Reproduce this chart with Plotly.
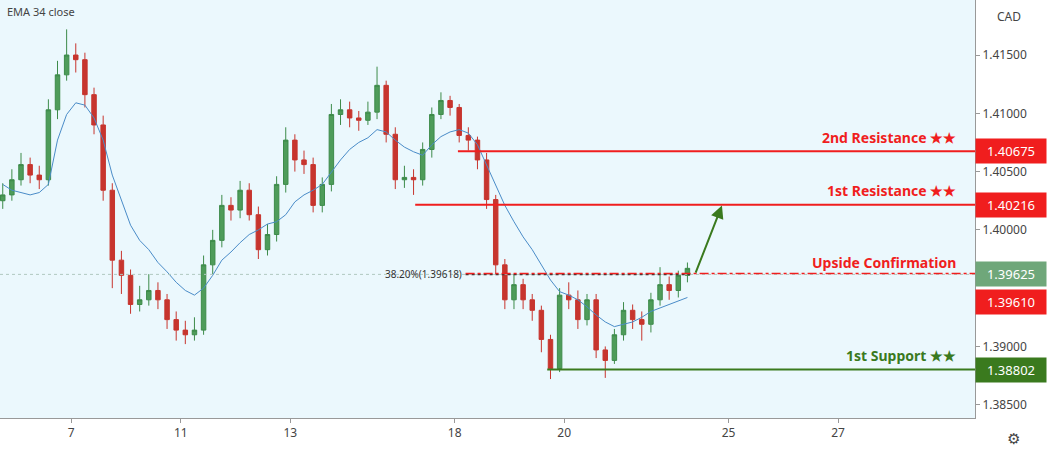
import plotly.graph_objects as go

# 4H bars, x in trading-day units (0 = the 7th)
closes = [1.4030,1.4043,1.4056,1.4047,1.4043,1.4103,1.4133,1.4150,1.4146,1.4116,1.4090,1.4034,1.3974,1.3961,1.3936,1.3940,
          1.3948,1.3940,1.3923,1.3914,1.3910,1.3914,1.3970,1.3991,1.4021,1.4017,1.4034,1.4013,1.3983,1.3996,1.4039,1.4077,
          1.4060,1.4056,1.4021,1.4039,1.4099,1.4103,1.4096,1.4094,1.4101,1.4124,1.4082,1.4043,1.4045,1.4043,1.4069,1.4099,
          1.4111,1.4105,1.4081,1.4077,1.4060,1.4026,1.3970,1.3940,1.3953,1.3940,1.3931,1.3906,1.3881,1.3944,1.3940,1.3923,
          1.3940,1.3897,1.3888,1.3910,1.3931,1.3923,1.3919,1.3940,1.3953,1.3948,1.3961,1.3967]
highs = [1.4040,1.4052,1.4066,1.4062,1.4055,1.4112,1.4145,1.4172,1.4160,1.4152,1.4122,1.4098,1.4040,1.3982,1.3966,1.3952,
         1.3962,1.3955,1.3945,1.3930,1.3922,1.3925,1.3978,1.4000,1.4030,1.4028,1.4042,1.4040,1.4020,1.4005,1.4046,1.4088,
         1.4082,1.4068,1.4062,1.4045,1.4108,1.4112,1.4110,1.4102,1.4110,1.4140,1.4128,1.4088,1.4055,1.4052,1.4075,1.4105,
         1.4118,1.4115,1.4108,1.4088,1.4080,1.4066,1.4030,1.3975,1.3962,1.3958,1.3945,1.3935,1.3910,1.3950,1.3955,1.3948,
         1.3945,1.3945,1.3900,1.3915,1.3938,1.3936,1.3930,1.3946,1.3968,1.3960,1.3965,1.3972]
lows = [1.4018,1.4025,1.4038,1.4040,1.4035,1.4038,1.4095,1.4128,1.4135,1.4105,1.4082,1.4025,1.3950,1.3945,1.3928,1.3930,
        1.3935,1.3932,1.3915,1.3905,1.3902,1.3905,1.3910,1.3962,1.3985,1.4008,1.4010,1.4008,1.3975,1.3978,1.3990,1.4032,
        1.4050,1.4048,1.4015,1.4015,1.4033,1.4090,1.4088,1.4085,1.4090,1.4095,1.4075,1.4035,1.4036,1.4030,1.4038,1.4062,
        1.4095,1.4098,1.4075,1.4068,1.4052,1.4018,1.3962,1.3932,1.3932,1.3932,1.3922,1.3895,1.3872,1.3878,1.3932,1.3915,
        1.3918,1.3890,1.3873,1.3885,1.3905,1.3915,1.3905,1.3912,1.3935,1.3940,1.3942,1.3955]
ema34 = [1.4039,1.4034,1.4032,1.4030,1.4032,1.4039,1.4077,1.4099,1.4109,1.4107,1.4096,1.4077,1.4047,1.4026,1.4004,1.3991,
         1.3983,1.3972,1.3964,1.3955,1.3948,1.3944,1.3950,1.3961,1.3974,1.3981,1.3989,1.3996,1.4000,1.4005,1.4007,1.4013,
         1.4024,1.4030,1.4034,1.4039,1.4050,1.4060,1.4069,1.4075,1.4079,1.4086,1.4084,1.4077,1.4071,1.4067,1.4064,1.4073,
         1.4080,1.4084,1.4086,1.4083,1.4073,1.4056,1.4039,1.4021,1.4007,1.3994,1.3983,1.3970,1.3957,1.3947,1.3944,1.3940,
         1.3934,1.3927,1.3921,1.3917,1.3919,1.3921,1.3925,1.3930,1.3933,1.3936,1.3939,1.3942]
opens = [1.4025] + closes[:-1]
bar_x = [-1.25 + i / 6 for i in range(len(closes))]

tick_pos = [0, 2, 4, 7, 9, 12, 14]
tick_text = ["7", "11", "13", "18", "20", "25", "27"]
# 1.39500 sits under the price tags, as in the original
price_ticks = [1.385, 1.39, 1.40, 1.405, 1.41, 1.415]

levels = [("2nd Resistance ★★", 1.40675, 7.06, "#f01e1e"),
          ("1st Resistance ★★", 1.40216, 6.28, "#f01e1e"),
          ("1st Support ★★", 1.38802, 8.69, "#3a7a1e")]
fib = 1.39618
confirm = 1.39625

RED = "#f01e1e"
GREEN = "#3a7a1e"
XMAX = 16.5

fig = go.Figure()
fig.add_trace(go.Candlestick(x=bar_x, open=opens, high=highs, low=lows, close=closes,
                             increasing=dict(line=dict(color="#3d8b4a", width=1), fillcolor="#4e9c5a"),
                             decreasing=dict(line=dict(color="#c7352e", width=1), fillcolor="#c7352e"),
                             whiskerwidth=0, showlegend=False, hoverinfo="skip"))
fig.add_trace(go.Scatter(x=bar_x, y=ema34, mode="lines", line=dict(color="#4a8cc8", width=1),
                         showlegend=False, hoverinfo="skip"))

# fib level
fig.add_shape(type="line", x0=-1.3, x1=XMAX, y0=fib, y1=fib, line=dict(color="#b0c8c0", width=1, dash="dot"))
fig.add_shape(type="line", x0=7.2, x1=11.3, y0=fib, y1=fib, line=dict(color="#333333", width=1.5, dash="dot"))
fig.add_shape(type="line", x0=7.2, x1=XMAX, y0=confirm, y1=confirm, line=dict(color=RED, width=1.5, dash="dashdot"))
fig.add_annotation(x=7.18, y=fib, text="38.20%(1.39618)", showarrow=False, xanchor="right",
                   font=dict(size=10, color="#333333"))
fig.add_annotation(xref="paper", x=0.983, y=confirm, yshift=11, text="<b>Upside Confirmation</b>",
                   showarrow=False, xanchor="right", font=dict(size=14, color=RED))

for name, val, start, col in levels:
    fig.add_shape(type="line", x0=start, x1=XMAX, y0=val, y1=val, line=dict(color=col, width=2))
    fig.add_annotation(xref="paper", x=0.983, y=val, yshift=14, text="<b>%s</b>" % name,
                       showarrow=False, xanchor="right", font=dict(size=14, color=col))
    fig.add_annotation(xref="paper", x=1.0, y=val, text="%.5f" % val, showarrow=False, xanchor="left",
                       bgcolor=col, font=dict(size=13, color="white"), borderpad=3, width=64)

fig.add_annotation(xref="paper", x=1.0, y=confirm, text="1.39625", showarrow=False, xanchor="left",
                   bgcolor="#6fa77a", font=dict(size=13, color="white"), borderpad=3, width=64)
fig.add_annotation(xref="paper", x=1.0, y=1.3961, yshift=-27, text="1.39610", showarrow=False, xanchor="left",
                   bgcolor=RED, font=dict(size=13, color="white"), borderpad=3, width=64)

# projection arrow
fig.add_annotation(x=11.88, y=1.4021, ax=11.39, ay=1.3962, axref="x", ayref="y", text="",
                   showarrow=True, arrowhead=2, arrowsize=1.3, arrowwidth=2, arrowcolor=GREEN)

fig.add_annotation(xref="paper", yref="paper", x=0.005, y=0.995, text="EMA 34 close", showarrow=False,
                   xanchor="left", yanchor="top", font=dict(size=11, color="#444444"))
fig.add_annotation(xref="paper", yref="paper", x=1.035, y=0.985, text="CAD", showarrow=False,
                   xanchor="center", yanchor="top", font=dict(size=12, color="#444444"))
fig.add_annotation(xref="paper", yref="paper", x=1.039, y=-0.02, text="⚙", showarrow=False,
                   xanchor="center", yanchor="top", font=dict(size=15, color="#444444"))

fig.update_layout(width=1051, height=453, margin=dict(l=0, r=76, t=0, b=35),
                  paper_bgcolor="#ffffff", plot_bgcolor="#ebf8fd",
                  font=dict(family="Noto Sans", color="#444444"),
                  xaxis=dict(range=[-1.3, XMAX], tickvals=tick_pos, ticktext=tick_text, showgrid=False,
                             zeroline=False, showline=True, linecolor="#999999", ticks="outside", ticklen=4,
                             tickcolor="#999999", rangeslider=dict(visible=False), tickfont=dict(size=12)),
                  yaxis=dict(range=[1.38386, 1.41972], side="right", tickvals=price_ticks,
                             tickformat=".5f", showgrid=False, zeroline=False, showline=True,
                             linecolor="#999999", ticks="outside", ticklen=4, tickcolor="#999999",
                             tickfont=dict(size=12)))

fig.write_html("out.html", config={"displayModeBar": False},
               post_script="document.body.style.margin='0';document.body.style.overflow='hidden';")
